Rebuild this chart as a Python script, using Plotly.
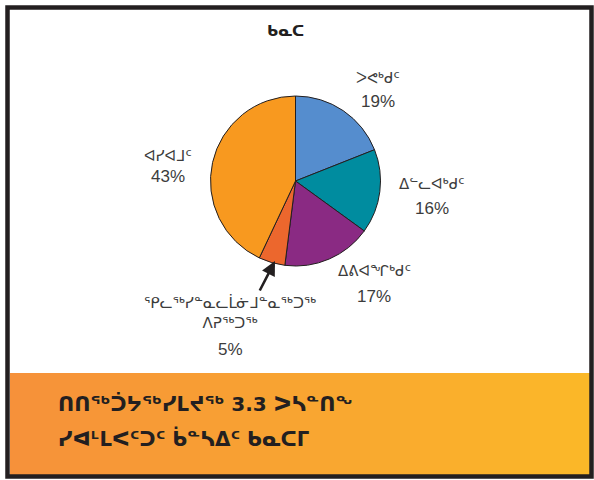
import plotly.graph_objects as go

W, H = 594, 480

# ---- data ----
title_text = "ᑲᓇᑕ"
categories = ["ᐳᕙᒃᑯᑦ", "ᐃᓪᓚᐊᒃᑯᑦ", "ᐃᕕᐊᖏᒃᑯᑦ",
              "ᕿᓚᖅᓯᓐᓇᓚᒫᓃᒧᓐᓇᖅᑐᖅ<br>ᐱᕈᖅᑐᖅ", "ᐊᓯᐊᒧᑦ"]
values = [19, 16, 17, 5, 43]
colors = ["#558DCE", "#008C9F", "#8A2A83", "#EC672D", "#F8991F"]
banner_lines = ["ᑎᑎᖅᑑᔭᖅᓯᒪᔪᖅ 3.3 ᐳᓴᓐᑎᖕ", "ᓯᐊᒻᒪᐸᑦᑐᑦ ᑳᓐᓴᐃᑦ ᑲᓇᑕᒥ"]

# label placement in pixels: (x centre, name y, percent y)
label_pos = [(378, 77, 101), (432, 183, 208), (374, 270, 296),
             (230, 312, 349), (168, 156, 176)]


def px(x):
    return x / W


def py(y):
    return 1 - y / H


fig = go.Figure()
fig.add_trace(go.Pie(
    labels=categories, values=values, sort=False, direction="clockwise",
    rotation=0, marker=dict(colors=colors, line=dict(color="#231F20", width=1)),
    textinfo="none", hoverinfo="label+percent", showlegend=False,
    domain=dict(x=[px(210), px(381)], y=[py(266), py(96)]),
))

shapes = []
# gradient banner
n = 58
x0, x1 = 10, 590
c0 = (246, 145, 58)
c1 = (251, 184, 40)
for i in range(n):
    t = i / (n - 1)
    c = tuple(round(c0[k] + (c1[k] - c0[k]) * t) for k in range(3))
    xa = x0 + (x1 - x0) * i / n
    xb = x0 + (x1 - x0) * (i + 1) / n + 0.6
    shapes.append(dict(type="rect", xref="paper", yref="paper",
                       x0=px(xa), x1=px(min(xb, x1)), y0=py(475), y1=py(373),
                       line=dict(width=0), fillcolor="rgb(%d,%d,%d)" % c, layer="below"))
# outer frame
shapes.append(dict(type="rect", xref="paper", yref="paper",
                   x0=px(7.5), x1=px(591.5), y0=py(476.5), y1=py(7.5),
                   line=dict(color="#231F20", width=4.5), fillcolor="rgba(0,0,0,0)"))

annotations = []
annotations.append(dict(text="<b>" + title_text + "</b>", x=px(285), y=py(31),
                        xref="paper", yref="paper", showarrow=False,
                        xanchor="center", yanchor="middle",
                        font=dict(size=15, color="#231F20", family="DejaVu Sans")))
lab_font = dict(size=15, color="#3C3C3C", family="Liberation Sans, DejaVu Sans")
for (lx, ny, pyy), cat, v in zip(label_pos, categories, values):
    annotations.append(dict(text=cat, x=px(lx), y=py(ny),
                            xref="paper", yref="paper", showarrow=False,
                            align="center", xanchor="center", yanchor="middle",
                            font=lab_font))
    annotations.append(dict(text=f"{v}%", x=px(lx), y=py(pyy),
                            xref="paper", yref="paper", showarrow=False,
                            xanchor="center", yanchor="middle",
                            font=dict(size=17, color="#3C3C3C",
                                      family="Liberation Sans, DejaVu Sans")))
# arrow to small slice
annotations.append(dict(text="", x=px(275), y=py(261), xref="paper", yref="paper",
                        showarrow=True, ax=-16, ay=31, arrowhead=2, arrowsize=1.1,
                        arrowwidth=2.6, arrowcolor="#231F20"))
# banner text
for i, line in enumerate(banner_lines):
    annotations.append(dict(text="<b>" + line + "</b>", x=px(56), y=py(404 + 34 * i),
                            xref="paper", yref="paper", showarrow=False,
                            xanchor="left", yanchor="middle",
                            font=dict(size=20, color="#231F20", family="DejaVu Sans")))

fig.update_layout(
    width=W, height=H, margin=dict(l=0, r=0, t=0, b=0),
    paper_bgcolor="white", plot_bgcolor="white",
    shapes=shapes, annotations=annotations,
)
fig.write_html("out.html", config={"displayModeBar": False},
               post_script="document.body.style.margin='0px';document.body.style.overflow='hidden';")
